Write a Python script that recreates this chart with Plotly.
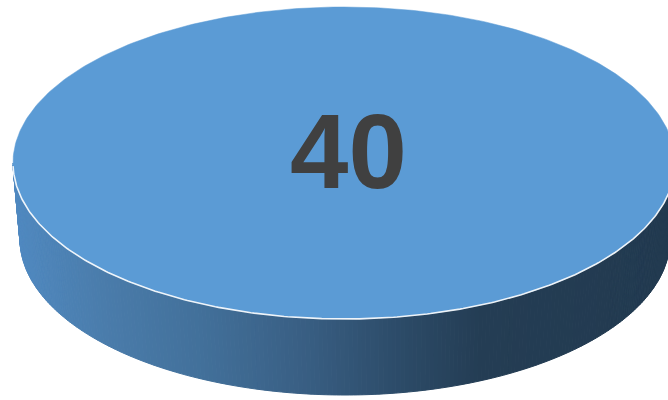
import numpy as np
import plotly.graph_objects as go

# ---- data ----
labels = ["40"]
values = [40]
slice_colors = ["#5B9BD5"]

# ---- geometry / style (pixel units) ----
W, H = 668, 400
CX, CY, RX, RY = 344, 163, 331, 156      # top face ellipse
BCX, BCY, BRX, BRY = 345, 239, 325, 156  # bottom face ellipse
N_STRIPS = 240
side_stops = [(13, "#5089c0"), (100, "#4a7cab"), (200, "#42709a"),
              (300, "#395f84"), (400, "#2c4b68"), (480, "#243d54"),
              (670, "#223a50")]


def hex2rgb(h):
    h = h.lstrip("#")
    return np.array([int(h[i:i + 2], 16) for i in (0, 2, 4)], dtype=float)


def side_color(x):
    xs = [s[0] for s in side_stops]
    cs = [hex2rgb(s[1]) for s in side_stops]
    rgb = [np.interp(x, xs, [c[k] for c in cs]) for k in range(3)]
    return "rgb(%d,%d,%d)" % tuple(int(round(v)) for v in rgb)


def top_pt(t):
    return CX + RX * np.cos(t), CY + RY * np.sin(t)


def bot_pt(t):
    return BCX + BRX * np.cos(t), BCY + BRY * np.sin(t)


fig = go.Figure()

total = float(sum(values))
start = -np.pi / 2
slices = []
for lab, val, col in zip(labels, values, slice_colors):
    span = 2 * np.pi * val / total
    slices.append((lab, val, col, start, start + span))
    start += span

# side walls (front half: 0..pi in y-down coordinates)
for lab, val, col, a0, a1 in slices:
    if a1 - a0 >= 2 * np.pi - 1e-9:
        lo, hi = 0.0, np.pi
    else:
        lo = max(a0 % (2 * np.pi), 0.0)
        hi = min(lo + (a1 - a0), np.pi)
    if hi <= lo:
        continue
    edges = np.linspace(lo, hi, N_STRIPS + 1)
    for i in range(N_STRIPS):
        ts = np.linspace(edges[i], edges[i + 1], 4)
        tx, ty = top_pt(ts)
        bx, by = bot_pt(ts[::-1])
        xs = np.concatenate([tx, bx, tx[:1]])
        ys = np.concatenate([ty, by, ty[:1]])
        c = side_color(float(np.mean(tx)))
        fig.add_trace(go.Scatter(x=xs, y=ys, mode="lines", fill="toself",
                                 fillcolor=c, line=dict(color=c, width=1),
                                 hoverinfo="skip", showlegend=False))

# top faces
for lab, val, col, a0, a1 in slices:
    ts = np.linspace(a0, a1, 400)
    tx, ty = top_pt(ts)
    if a1 - a0 < 2 * np.pi - 1e-9:
        tx = np.concatenate([[CX], tx, [CX]])
        ty = np.concatenate([[CY], ty, [CY]])
    fig.add_trace(go.Scatter(x=tx, y=ty, mode="lines", fill="toself",
                             fillcolor=col, line=dict(color=col, width=0.5),
                             hoverinfo="skip", showlegend=False))

# white highlight on front rim
ts = np.linspace(0.02, np.pi - 0.02, 300)
hx, hy = top_pt(ts)
fig.add_trace(go.Scatter(x=hx, y=hy, mode="lines",
                         line=dict(color="rgba(255,255,255,0.9)", width=1.6),
                         hoverinfo="skip", showlegend=False))

# labels
for lab, val, col, a0, a1 in slices:
    if a1 - a0 >= 2 * np.pi - 1e-9:
        lx, ly = CX, CY
    else:
        m = (a0 + a1) / 2
        lx, ly = CX + 0.6 * RX * np.cos(m), CY + 0.6 * RY * np.sin(m)
    fig.add_annotation(x=lx, y=ly, text="<b>%s</b>" % lab, showarrow=False,
                       xshift=4, yshift=12,
                       font=dict(family="Liberation Sans, Arial, sans-serif",
                                 size=105, color="#404040"))

fig.update_layout(
    width=W, height=H,
    margin=dict(l=0, r=0, t=0, b=0),
    paper_bgcolor="white", plot_bgcolor="white",
    xaxis=dict(range=[0, W], visible=False, fixedrange=True),
    yaxis=dict(range=[H, 0], visible=False, fixedrange=True),
    showlegend=False,
)

fig.write_html("out.html", config={"displayModeBar": False},
               post_script="document.body.style.margin='0px';document.body.style.padding='0px';")
